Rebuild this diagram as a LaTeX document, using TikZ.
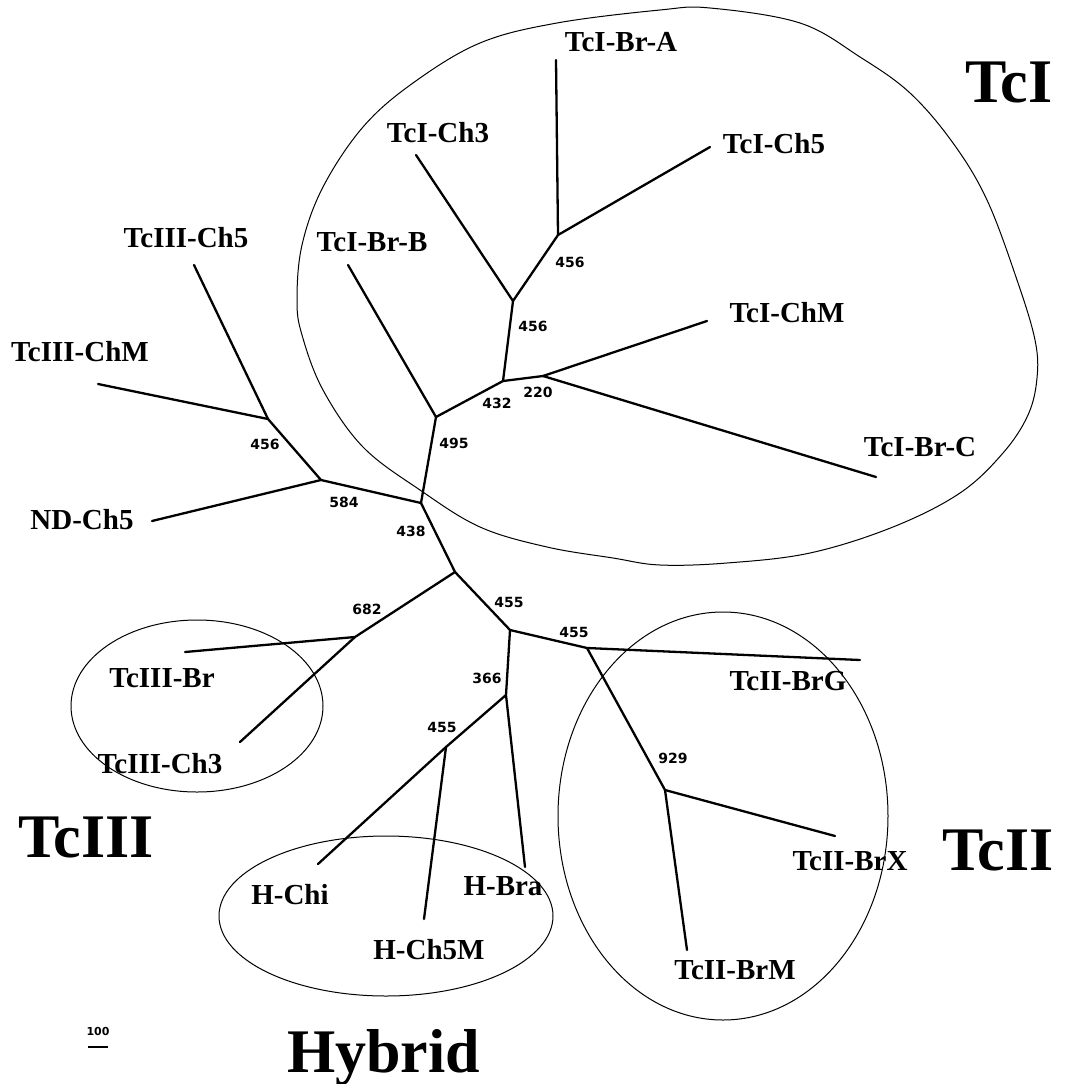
\documentclass[tikz,border=0pt]{standalone}
\usepackage{fontspec}
\setmainfont{Liberation Serif}
\newfontfamily\numfont{DejaVu Sans}
\tikzset{
 branch/.style={line width=2.3pt, line cap=round, line join=round},
 hull/.style={line width=1pt},
 leaf/.style={font=\fontsize{29}{32}\selectfont\bfseries, inner sep=0pt},
 boot/.style={font=\numfont\bfseries\fontsize{14}{16}\selectfont, inner sep=0pt},
 clade/.style={font=\fontsize{62}{70}\selectfont\bfseries, inner sep=0pt, anchor=base west},
}
\begin{document}
\begin{tikzpicture}[x=1pt,y=-1pt]
\useasboundingbox (0,0) rectangle (1065,1084);
% ---- hulls ----
\draw[hull] plot[smooth cycle, tension=0.6] coordinates {
 (297,300) (302,245) (323,187) (363,127) (413,83) (480,43) (557,23) (660,10)
 (710,8) (800,23) (860,57) (910,93) (953,143) (987,200) (1017,280) (1035,340)
 (1037,378) (1028,415) (1003,453) (960,493) (893,527) (810,553) (727,563)
 (660,565) (613,558) (547,547) (480,527) (420,490) (363,447) (323,390) (302,335)};
\draw[hull] (197,706) ellipse [x radius=126, y radius=86];
\draw[hull] (386,916) ellipse [x radius=167, y radius=80];
\draw[hull] (723,816) ellipse [x radius=165, y radius=204];
% ---- internal nodes ----
\coordinate (a) at (558,235);
\coordinate (b) at (513,301);
\coordinate (c) at (503,381);
\coordinate (d) at (543,376);
\coordinate (e) at (436,417);
\coordinate (f) at (421,503);
\coordinate (g) at (321,480);
\coordinate (h) at (268,419);
\coordinate (i) at (455,572);
\coordinate (j) at (355,637);
\coordinate (k) at (510,630);
\coordinate (l) at (587,648);
\coordinate (m) at (665,790);
\coordinate (n) at (506,695);
\coordinate (o) at (446,747);
% ---- leaf ends ----
\coordinate (BrA) at (556,60);
\coordinate (ChfI) at (710,147);
\coordinate (ChtI) at (416,155);
\coordinate (BrB) at (348,265);
\coordinate (ChMI) at (707,321);
\coordinate (BrC) at (876,477);
\coordinate (ChfIII) at (194,265);
\coordinate (ChMIII) at (98,384);
\coordinate (ND) at (152,521);
\coordinate (BrIII) at (185,652);
\coordinate (ChtIII) at (240,742);
\coordinate (BrG) at (860,660);
\coordinate (BrX) at (835,836);
\coordinate (BrM) at (687,950);
\coordinate (Bra) at (525,867);
\coordinate (Chi) at (318,864);
\coordinate (ChfM) at (424,919);
% ---- branches ----
\draw[branch] (BrA) -- (a) -- (ChfI);
\draw[branch] (a) -- (b) -- (ChtI);
\draw[branch] (b) -- (c) -- (d) -- (ChMI);
\draw[branch] (d) -- (BrC);
\draw[branch] (c) -- (e) -- (BrB);
\draw[branch] (e) -- (f) -- (g) -- (ND);
\draw[branch] (g) -- (h) -- (ChMIII);
\draw[branch] (h) -- (ChfIII);
\draw[branch] (f) -- (i) -- (j) -- (BrIII);
\draw[branch] (j) -- (ChtIII);
\draw[branch] (i) -- (k) -- (l) -- (BrG);
\draw[branch] (l) -- (m) -- (BrX);
\draw[branch] (m) -- (BrM);
\draw[branch] (k) -- (n) -- (Bra);
\draw[branch] (n) -- (o) -- (Chi);
\draw[branch] (o) -- (ChfM);
% ---- leaf labels ----
\node[leaf] (tBrA) at (621,42) {TcI-Br-A};
\node[leaf] (tChfI) at (774,144) {TcI-Ch5};
\node[leaf] (tChtI) at (438,133) {TcI-Ch3};
\node[leaf] (tBrB) at (372,242) {TcI-Br-B};
\node[leaf] (tChMI) at (787,313) {TcI-ChM};
\node[leaf] (tBrC) at (920,447) {TcI-Br-C};
\node[leaf] (tChfIII) at (186,238) {TcIII-Ch5};
\node[leaf] (tChMIII) at (80,352) {TcIII-ChM};
\node[leaf] (tND) at (82,520) {ND-Ch5};
\node[leaf] (tBrIII) at (162,678) {TcIII-Br};
\node[leaf] (tChtIII) at (160,764) {TcIII-Ch3};
\node[leaf] (tBrG) at (788,681) {TcII-BrG};
\node[leaf] (tBrX) at (850,861) {TcII-BrX};
\node[leaf] (tBrM) at (735,970) {TcII-BrM};
\node[leaf] (tBra) at (503,886) {H-Bra};
\node[leaf] (tChi) at (290,895) {H-Chi};
\node[leaf] (tChfM) at (429,950) {H-Ch5M};
% ---- bootstrap values ----
\node[boot] (v1) at (570,262) {456};
\node[boot] (v2) at (533,326) {456};
\node[boot] (v3) at (497,403) {432};
\node[boot] (v4) at (538,392) {220};
\node[boot] (v5) at (454,443) {495};
\node[boot] (v6) at (344,502) {584};
\node[boot] (v7) at (411,531) {438};
\node[boot] (v8) at (265,444) {456};
\node[boot] (v9) at (367,609) {682};
\node[boot] (v10) at (509,602) {455};
\node[boot] (v11) at (574,632) {455};
\node[boot] (v12) at (487,678) {366};
\node[boot] (v13) at (442,727) {455};
\node[boot] (v14) at (673,758) {929};
% ---- clade names ----
\node[clade] (cI) at (965,102) {TcI};
\node[clade] (cIII) at (18,857) {TcIII};
\node[clade] (cII) at (942,870) {TcII};
\node[clade] (cH) at (287,1072) {Hybrid};
% ---- scale ----
\node[font=\numfont\bfseries\fontsize{11}{13}\selectfont, inner sep=0pt] (sc) at (98,1031) {100};
\coordinate (s1) at (88,1047);
\coordinate (s2) at (108,1047);
\draw[line width=2pt] (s1) -- (s2);
\end{tikzpicture}
\end{document}
